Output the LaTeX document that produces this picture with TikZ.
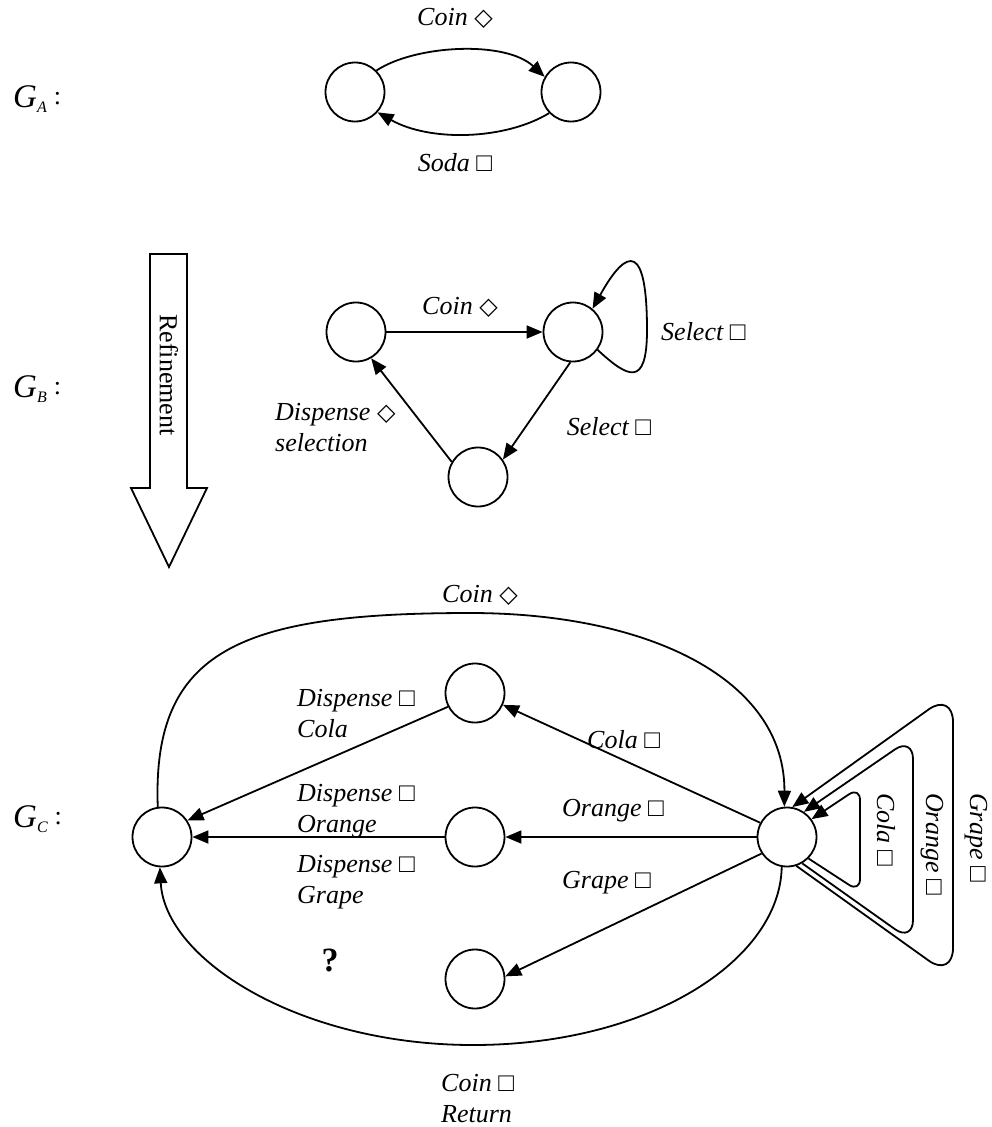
\documentclass[tikz,border=0pt]{standalone}
\usepackage{fontspec}
\setmainfont{Liberation Serif}
\newfontfamily\symf{DejaVu Sans}
\usetikzlibrary{arrows.meta}
\newcommand{\bxs}{□}
\newcommand{\dms}{{\symf\fontsize{24}{24}\selectfont ◇}}
\newcommand{\gname}[1]{\fontsize{33}{33}\selectfont\itshape G\raisebox{-5pt}{\fontsize{16}{16}\selectfont #1}\hspace{7pt}\upshape\fontsize{26}{26}\selectfont\raisebox{3pt}{:}}
\begin{document}
\begin{tikzpicture}[x=1pt,y=-1pt,
  st/.style={circle,draw,line width=1.8pt,minimum size=59pt,inner sep=0pt},
  lbl/.style={inner sep=0pt,font=\fontsize{26}{31}\selectfont\itshape,align=left},
  edge/.style={line width=1.8pt,-{Triangle[length=16pt,width=13pt]}},
  glbl/.style={anchor=base west,inner sep=0pt},
]
\useasboundingbox (0,0) rectangle (992,1127);

% ---------- G_A ----------
\node[glbl] (gA) at (13,107) {\gname{A}};
\node[st] (nA1) at (355,92) {};
\node[st] (nA2) at (571,92) {};
\draw[edge] (nA1.45) .. controls (415,45) and (505,40) .. (nA2.150);
\draw[edge] (nA2.-136) .. controls (505,140) and (430,142) .. (nA1.-42);
\node[lbl] (lA1) at (455,18) {Coin \dms};
\node[lbl] (lA2) at (455,163) {Soda \bxs};

% ---------- Refinement arrow ----------
\draw[line width=1.8pt,line join=miter] (150,254) -- (187,254) -- (187,488) -- (207,488) -- (169,567) -- (131,488) -- (150,488) -- cycle;
\node[rotate=-90,inner sep=0pt,font=\fontsize{26}{26}\selectfont] (ref) at (169,375) {Refinement};

% ---------- G_B ----------
\node[glbl] (gB) at (13,397) {\gname{B}};
\node[st] (nB1) at (356,332) {};
\node[st] (nB2) at (573,332) {};
\node[st] (nB3) at (478,477) {};
\draw[edge] (nB1) -- (nB2);
\draw[edge] (nB2.-36) .. controls (628,378) and (647,388) .. (647,330) .. controls (647,245) and (628,245) .. (nB2.50);
\draw[edge] (nB2.-95) -- (nB3.35);
\draw[edge] (nB3.150) -- (nB1.-60);
\node[lbl] (lB1) at (460,307) {Coin \dms};
\node[lbl,anchor=west] (lB2) at (661,332) {Select \bxs};
\node[lbl] (lB3) at (609,427) {Select \bxs};
\node[lbl,anchor=west] (lB4) at (275,428) {Dispense \dms\\selection};

% ---------- G_C ----------
\node[glbl] (gC) at (13,827) {\gname{C}};
\node[st] (nC1) at (162,837) {};
\node[st] (nC2) at (475,693) {};
\node[st] (nC3) at (475,837) {};
\node[st] (nC4) at (475,979) {};
\node[st] (nC5) at (787,837) {};

\draw[edge] (nC1.98) .. controls (152,650) and (240,613) .. (470,613) .. controls (650,613) and (785,680) .. (nC5.95);
\draw[edge] (nC5.-100) .. controls (780,960) and (650,1045) .. (473,1045) .. controls (300,1045) and (165,960) .. (nC1.-94);

\draw[edge] (nC5.152) -- (nC2.-23);
\draw[edge] (nC5.180) -- (nC3.0);
\draw[edge] (nC5.213) -- (nC4.5);
\draw[edge] (nC2.207) -- (nC1.33);
\draw[edge] (nC3.180) -- (nC1.0);

\draw[edge,rounded corners=13pt] (nC5.-45) -- (860,892) -- (860,787) -- (nC5.36);
\draw[edge,rounded corners=22pt] (nC5.-60) -- (913,942) -- (913,737) -- (nC5.56);
\draw[edge,rounded corners=30pt] (nC5.-72) -- (953,978) -- (953,692) -- (nC5.80);

\node[lbl] (lC1) at (480,595) {Coin \dms};
\node[lbl,anchor=west] (lC2) at (297,714) {Dispense \bxs\\Cola};
\node[lbl,anchor=west] (lC3) at (297,811) {Dispense \bxs\\Orange};
\node[lbl,anchor=west] (lC4) at (297,882) {Dispense \bxs\\Grape};
\node[lbl,anchor=west] (lC5) at (587,740) {Cola \bxs};
\node[lbl,anchor=west] (lC6) at (562,811) {Orange \bxs};
\node[lbl,anchor=west] (lC7) at (562,883) {Grape \bxs};
\node[lbl,anchor=west] (lC8) at (441,1099) {Coin \bxs\\Return};
\node[inner sep=0pt,font=\fontsize{34}{34}\selectfont\bfseries] (q) at (330,960) {?};
\node[lbl,anchor=base west,rotate=-90] (lC9) at (877,793) {Cola \bxs};
\node[lbl,anchor=base west,rotate=-90] (lC10) at (926,793) {Orange \bxs};
\node[lbl,anchor=base west,rotate=-90] (lC11) at (970,793) {Grape \bxs};
\end{tikzpicture}
\end{document}
